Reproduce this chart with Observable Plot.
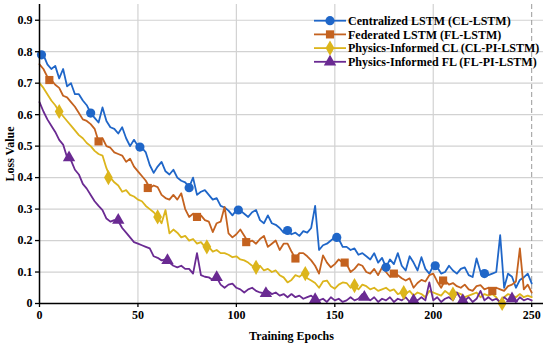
<!DOCTYPE html>
<html><head><meta charset="utf-8">
<script src="https://cdn.jsdelivr.net/npm/d3@7"></script>
<script src="https://cdn.jsdelivr.net/npm/@observablehq/plot@0.6"></script>
<style>body{margin:0;background:#fff}#chart{width:550px;height:345px}</style>
</head><body><div id="chart"></div><script>
// ---- data ----
const epochs = d3.range(0, 251, 2);
const seriesNames = ["Centralized LSTM (CL-LSTM)", "Federated LSTM (FL-LSTM)", "Physics-Informed CL (CL-PI-LSTM)", "Physics-Informed FL (FL-PI-LSTM)"];
const clLstm = [0.785,0.79,0.76,0.745,0.755,0.715,0.745,0.69,0.70,0.665,0.665,0.645,0.63,0.605,0.59,0.575,0.623,0.58,0.56,0.555,0.54,0.56,0.525,0.50,0.52,0.50,0.495,0.48,0.44,0.415,0.435,0.45,0.42,0.41,0.425,0.40,0.39,0.385,0.37,0.40,0.345,0.355,0.36,0.345,0.33,0.335,0.31,0.305,0.295,0.28,0.297,0.295,0.285,0.275,0.29,0.297,0.265,0.255,0.28,0.255,0.25,0.24,0.225,0.232,0.22,0.225,0.215,0.23,0.225,0.24,0.31,0.17,0.185,0.19,0.20,0.21,0.205,0.18,0.18,0.17,0.175,0.155,0.16,0.15,0.14,0.16,0.13,0.145,0.115,0.14,0.125,0.16,0.12,0.105,0.15,0.13,0.105,0.147,0.11,0.095,0.12,0.115,0.095,0.10,0.12,0.105,0.095,0.11,0.115,0.09,0.084,0.143,0.10,0.095,0.09,0.095,0.10,0.217,0.05,0.095,0.085,0.05,0.075,0.083,0.095,0.064];
const flLstm = [0.76,0.745,0.72,0.71,0.695,0.685,0.66,0.655,0.64,0.625,0.605,0.585,0.58,0.57,0.555,0.515,0.525,0.50,0.495,0.48,0.475,0.47,0.45,0.46,0.435,0.42,0.405,0.39,0.367,0.375,0.37,0.345,0.335,0.33,0.345,0.33,0.35,0.30,0.275,0.285,0.275,0.28,0.265,0.26,0.227,0.255,0.26,0.307,0.223,0.21,0.22,0.235,0.215,0.195,0.20,0.19,0.205,0.215,0.18,0.19,0.20,0.17,0.19,0.19,0.165,0.143,0.16,0.16,0.15,0.137,0.12,0.095,0.153,0.13,0.115,0.125,0.14,0.13,0.125,0.10,0.11,0.125,0.12,0.10,0.095,0.11,0.09,0.115,0.10,0.085,0.095,0.09,0.08,0.073,0.08,0.05,0.065,0.075,0.07,0.09,0.095,0.07,0.05,0.073,0.06,0.065,0.055,0.05,0.06,0.045,0.04,0.055,0.058,0.045,0.05,0.04,0.05,0.045,0.04,0.055,0.06,0.07,0.175,0.045,0.06,0.035];
const clPiLstm = [0.70,0.685,0.665,0.645,0.63,0.61,0.595,0.58,0.565,0.55,0.535,0.525,0.51,0.50,0.485,0.475,0.47,0.43,0.40,0.385,0.375,0.355,0.36,0.345,0.34,0.33,0.325,0.31,0.30,0.29,0.275,0.255,0.297,0.223,0.235,0.225,0.21,0.215,0.20,0.205,0.19,0.195,0.18,0.18,0.165,0.17,0.16,0.16,0.155,0.147,0.15,0.14,0.137,0.13,0.12,0.115,0.12,0.105,0.11,0.10,0.105,0.09,0.083,0.067,0.075,0.09,0.085,0.095,0.08,0.073,0.065,0.05,0.07,0.073,0.055,0.047,0.06,0.067,0.065,0.05,0.057,0.045,0.06,0.055,0.045,0.05,0.04,0.045,0.05,0.04,0.045,0.03,0.035,0.03,0.04,0.025,0.035,0.03,0.02,0.04,0.035,0.03,0.025,0.04,0.03,0.025,0.035,0.03,0.02,0.025,0.03,0.035,0.02,0.03,0.025,0.03,0.02,0.0,0.02,0.03,0.025,0.02,0.03,0.02,0.025,0.02];
const flPiLstm = [0.64,0.61,0.585,0.565,0.545,0.52,0.505,0.465,0.455,0.425,0.41,0.38,0.365,0.345,0.325,0.31,0.297,0.27,0.26,0.265,0.262,0.24,0.225,0.21,0.195,0.19,0.185,0.18,0.175,0.15,0.145,0.137,0.14,0.13,0.12,0.115,0.12,0.11,0.11,0.095,0.16,0.09,0.085,0.083,0.075,0.083,0.06,0.05,0.06,0.063,0.05,0.045,0.035,0.045,0.05,0.04,0.035,0.032,0.04,0.03,0.035,0.025,0.03,0.02,0.03,0.02,0.025,0.015,0.02,0.025,0.013,0.01,0.015,0.005,0.02,0.01,0.015,0.005,0.01,0.02,0.01,0.015,0.03,0.02,0.01,0.02,0.005,0.015,0.01,0.02,0.005,0.015,0.01,0.02,0.005,0.015,0.01,0.02,0.01,0.067,0.01,0.02,0.005,0.015,0.02,0.01,0.035,0.015,0.01,0.02,0.005,0.015,0.04,0.01,0.02,0.01,0.015,0.005,0.02,0.01,0.015,0.005,0.02,0.01,0.015,0.01];
// marker positions (every 25 epochs, staggered per series)
const clMarkEpochs = [1,26,51,76,101,126,151,176,201,226];
const clMarkValues = [0.79,0.605,0.497,0.368,0.297,0.232,0.21,0.115,0.12,0.095];
const flMarkEpochs = [5,30,55,80,105,130,155,180,205,230];
const flMarkValues = [0.71,0.515,0.367,0.275,0.195,0.143,0.13,0.095,0.073,0.04];
const clPiMarkEpochs = [10,35,60,85,110,135,160,185,210,235];
const clPiMarkValues = [0.61,0.40,0.275,0.18,0.115,0.095,0.057,0.035,0.03,0.0];
const flPiMarkEpochs = [15,40,65,90,115,140,165,190,215,240];
const flPiMarkValues = [0.463,0.265,0.137,0.083,0.032,0.013,0.02,0.01,0.01,0.015];
const xTicks = [0,50,100,150,200,250];
const yTicks = [0,0.1,0.2,0.3,0.4,0.5,0.6,0.7,0.8,0.9];

const colors = ["#1f66c8","#c4621f","#dcb51c","#6a2a92"];
const symbols = ["circle","square","diamond","triangle"];
const lineVals = [clLstm, flLstm, clPiLstm, flPiLstm];
const markE = [clMarkEpochs, flMarkEpochs, clPiMarkEpochs, flPiMarkEpochs];
const markV = [clMarkValues, flMarkValues, clPiMarkValues, flPiMarkValues];

const lineRows = [], markRows = [];
seriesNames.forEach((s, i) => {
  epochs.forEach((e, j) => lineRows.push({series: s, epoch: e, loss: lineVals[i][j]}));
  markE[i].forEach((e, j) => markRows.push({series: s, epoch: e, loss: markV[i][j]}));
});

const font = "'Liberation Serif', 'Times New Roman', serif";
const plot = Plot.plot({
  width: 550, height: 345,
  marginTop: 4, marginRight: 7, marginBottom: 42, marginLeft: 39,
  style: {fontFamily: font, fontSize: "12px", fontWeight: "bold", color: "#000", background: "#fff"},
  x: {domain: [0, 256]},
  y: {domain: [0, 0.95]},
  color: {domain: seriesNames, range: colors},
  symbol: {domain: seriesNames, range: symbols},
  marks: [
    Plot.ruleX(xTicks.slice(1, 5), {stroke: "#d2d2d2", strokeWidth: 1.2}),
    Plot.ruleY(yTicks.slice(1), {stroke: "#d2d2d2", strokeWidth: 1.2}),
    Plot.ruleX([250], {stroke: "#999", strokeWidth: 1, strokeDasharray: "5,3"}),
    Plot.line(lineRows, {x: "epoch", y: "loss", z: "series", stroke: "series", strokeWidth: 1.8, strokeLinejoin: "round"}),
    Plot.dot(markRows, {x: "epoch", y: "loss", symbol: "series", fill: "series", r: 4.6, stroke: "none"}),
    Plot.ruleX([0], {stroke: "#000", strokeWidth: 1.5}),
    Plot.ruleY([0], {stroke: "#000", strokeWidth: 1.5}),
    Plot.axisX({ticks: xTicks, tickSize: 4, tickPadding: 3, stroke: "#000", strokeWidth: 1.3, label: "Training Epochs", labelAnchor: "center", labelArrow: "none", labelOffset: 36, fontWeight: "bold", fill: "#000"}),
    Plot.axisY({ticks: yTicks, tickSize: 4, tickPadding: 3, stroke: "#000", strokeWidth: 1.3, tickFormat: d => d === 0 ? "0" : d3.format(".1f")(d), label: "Loss Value", labelAnchor: "center", labelArrow: "none", labelOffset: 34, fontWeight: "bold", fill: "#000"})
  ]
});
document.getElementById("chart").appendChild(plot);

// legend (top-right, no box)
const svg = d3.select(plot);
const lg = svg.append("g").attr("font-family", font).attr("font-weight", "bold").attr("font-size", "12px").attr("text-anchor", "start");
const d3sym = [d3.symbolCircle, d3.symbolSquare, d3.symbolDiamond, d3.symbolTriangle];
seriesNames.forEach((s, i) => {
  const y = 20.7 + i * 13.7;
  lg.append("line").attr("x1", 314).attr("x2", 346).attr("y1", y).attr("y2", y).attr("stroke", colors[i]).attr("stroke-width", 1.8);
  lg.append("path").attr("d", d3.symbol(d3sym[i], Math.PI * 4.6 * 4.6)()).attr("transform", `translate(330,${y})`).attr("fill", colors[i]);
  lg.append("text").attr("x", 348).attr("y", y).attr("dy", "0.35em").attr("text-anchor", "start").attr("fill", "#000").text(s);
});
</script></body></html>
